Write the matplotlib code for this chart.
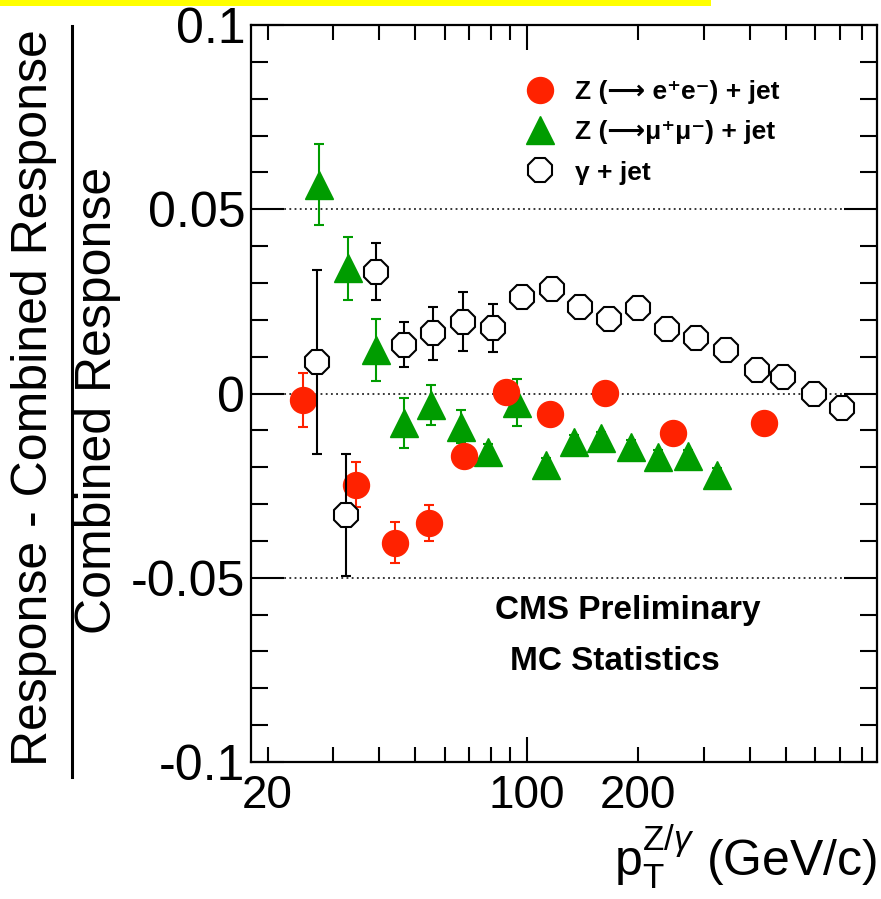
import matplotlib
matplotlib.use('Agg')
import matplotlib.pyplot as plt
from matplotlib.ticker import FixedLocator, FuncFormatter, MultipleLocator
from matplotlib.lines import Line2D
from matplotlib.patches import Rectangle

plt.rcParams['font.family'] = ['Liberation Sans', 'DejaVu Sans']
plt.rcParams['mathtext.fontset'] = 'custom'
plt.rcParams['mathtext.rm'] = 'Liberation Sans'
plt.rcParams['mathtext.it'] = 'Liberation Sans:italic'
plt.rcParams['mathtext.bf'] = 'Liberation Sans:bold'

# ---------------- data ----------------
ee_pt = [24.9, 34.6, 44.2, 54.6, 67.9, 88.0, 115.5, 162.8, 247.6, 435.0]
ee_val = [-0.0018, -0.0248, -0.0405, -0.0352, -0.0170, 0.0005, -0.0056, 0.0002, -0.0108, -0.0081]
ee_err = [0.0074, 0.0061, 0.0056, 0.0049, 0.0022, 0.0020, 0.0018, 0.0018, 0.0018, 0.0016]

mm_pt = [27.5, 33.0, 39.3, 46.7, 55.3, 66.4, 78.5, 93.8, 112.6, 133.9, 158.7, 191.0, 226.5, 272.8, 324.9]
mm_val = [0.0566, 0.0340, 0.0118, -0.0079, -0.0031, -0.0090, -0.0158, -0.0025, -0.0194,
          -0.0131, -0.0122, -0.0144, -0.0171, -0.0170, -0.0221]
mm_err = [0.0110, 0.0086, 0.0083, 0.0068, 0.0054, 0.0045, 0.0020, 0.0064, 0.0020,
          0.0018, 0.0018, 0.0018, 0.0018, 0.0018, 0.0018]

gj_pt = [27.2, 32.6, 39.3, 46.7, 56.0, 67.1, 81.0, 97.2, 117.0, 139.1, 167.0, 199.5,
         238.2, 286.8, 344.4, 416.6, 491.6, 594.9, 710.1]
gj_val = [0.0086, -0.0330, 0.0331, 0.0132, 0.0163, 0.0195, 0.0177, 0.0261, 0.0283, 0.0234,
          0.0201, 0.0231, 0.0174, 0.0150, 0.0118, 0.0064, 0.0044, -0.0001, -0.0040]
gj_err = [0.0250, 0.0165, 0.0078, 0.0061, 0.0073, 0.0080, 0.0065, 0.0025, 0.0025, 0.0022,
          0.0020, 0.0020, 0.0018, 0.0018, 0.0016, 0.0016, 0.0016, 0.0016, 0.0016]

ref_lines = [0.05, 0.0, -0.05]
x_major = [100]
x_minor = [20, 30, 40, 50, 60, 70, 80, 90, 200, 300, 400, 500, 600, 700, 800]
x_labelled = [20, 100, 200]

labels = ['Z (\u27f6 e\u207ae\u207b) + jet', 'Z (\u27f6\u03bc\u207a\u03bc\u207b) + jet', '\u03b3 + jet']

RED = '#ff2200'
GREEN = '#009c00'

W, H = 881, 899
fig = plt.figure(figsize=(W / 100, H / 100), dpi=100)
ax = fig.add_axes([250.7 / W, 1 - 762 / H, (877 - 250.7) / W, (762 - 25) / H])

ax.set_xscale('log')
ax.set_xlim(18, 880)
ax.set_ylim(-0.1, 0.1)

ax.hlines(ref_lines, 21.4, 750, colors='black', linestyles=(0, (1.2, 2.2)), linewidth=1.1, zorder=1)

ebk = dict(elinewidth=1.5, capsize=3.6, capthick=1.5, linestyle='none')
ax.errorbar(mm_pt, mm_val, yerr=mm_err, fmt='^', ms=20, color=GREEN, mec=GREEN,
            ecolor=GREEN, zorder=3, **ebk)
ax.errorbar(ee_pt, ee_val, yerr=ee_err, fmt='o', ms=18.7, color=RED, mec=RED,
            ecolor=RED, zorder=4, **ebk)
ax.errorbar(gj_pt, gj_val, yerr=gj_err, fmt='8', ms=18.7, mfc='white', mec='black',
            mew=1.5, ecolor='black', zorder=5, **ebk)

# ticks
ax.xaxis.set_major_locator(FixedLocator(x_major))
ax.xaxis.set_minor_locator(FixedLocator(x_minor))
fmt_x = FuncFormatter(lambda v, p: ('%d' % round(v)) if round(v) in x_labelled else '')
ax.xaxis.set_major_formatter(fmt_x)
ax.xaxis.set_minor_formatter(fmt_x)
ax.yaxis.set_major_locator(MultipleLocator(0.05))
ax.yaxis.set_minor_locator(MultipleLocator(0.01))
ax.yaxis.set_major_formatter(FuncFormatter(lambda v, p: ('%g' % round(v, 3)).replace('\u2212', '-')))

ax.tick_params(axis='x', which='major', direction='in', length=18, width=1.5, top=True,
               labelsize=33, pad=9)
ax.tick_params(axis='x', which='minor', direction='in', length=11, width=1.5, top=True,
               labelsize=33, pad=9)
ax.tick_params(axis='y', which='major', direction='in', length=24, width=1.5, right=True,
               labelsize=36, pad=4)
ax.tick_params(axis='y', which='minor', direction='in', length=12, width=1.5, right=True)
for s in ax.spines.values():
    s.set_linewidth(1.6)

# legend
handles = [
    Line2D([], [], marker='o', ms=18.7, color=RED, linestyle='none'),
    Line2D([], [], marker='^', ms=20, color=GREEN, linestyle='none'),
    Line2D([], [], marker='8', ms=18.7, mfc='white', mec='black', mew=1.5, linestyle='none'),
]
ax.legend(handles, labels, loc='upper left', bbox_to_anchor=(524 / W, 1 - 80 / H),
          bbox_transform=fig.transFigure, frameon=False, borderpad=0, borderaxespad=0,
          handlelength=1.2, handletextpad=0.73, labelspacing=0.62,
          prop={'size': 19, 'weight': 'bold'})

# texts
fig.text(628 / W, 1 - 610 / H, 'CMS Preliminary', ha='center', va='center',
         fontsize=24, fontweight='bold')
fig.text(615 / W, 1 - 662 / H, 'MC Statistics', ha='center', va='center',
         fontsize=24, fontweight='bold')

fig.text(877 / W, 1 - 858 / H, r'$\mathrm{p}_{\mathrm{T}}^{\mathrm{Z/}\gamma}$ (GeV/c)',
         ha='right', va='center', fontsize=36)

fig.text(34 / W, 1 - 398 / H, 'Response - Combined Response', rotation=90,
         ha='center', va='center', fontsize=36)
fig.text(98 / W, 1 - 400 / H, 'Combined Response', rotation=90,
         ha='center', va='center', fontsize=36)
fig.add_artist(Line2D([72 / W, 72 / W], [1 - 26 / H, 1 - 777 / H], lw=2.2, color='black'))

fig.add_artist(Rectangle((0, 1 - 5.5 / H), 711 / W, 5.5 / H, transform=fig.transFigure,
                         color='#ffff00', lw=0))

fig.savefig('out.png', dpi=100)
